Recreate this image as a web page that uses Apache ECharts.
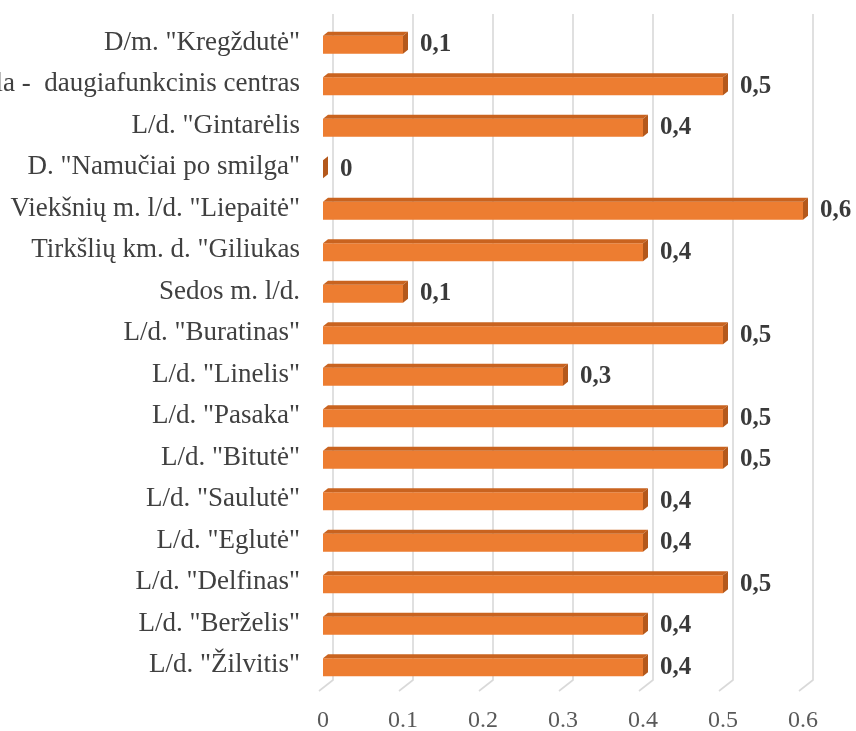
<!DOCTYPE html>
<html lang="lt">
<head>
<meta charset="UTF-8">
<title>Darželiai</title>
<style>
  html, body { margin: 0; padding: 0; background: #fff; }
  #chart { width: 856px; height: 731px; }
</style>
</head>
<body>
<div id="chart"></div>
<script src="https://cdn.jsdelivr.net/npm/echarts@6/dist/echarts.min.js"></script>
<script>
// categories, top to bottom
var categories = [
  'D/m. "Kregždutė"',
  'la -  daugiafunkcinis centras',
  'L/d. "Gintarėlis',
  'D. "Namučiai po smilga"',
  'Viekšnių m. l/d. "Liepaitė"',
  'Tirkšlių km. d. "Giliukas',
  'Sedos m. l/d.',
  'L/d. "Buratinas"',
  'L/d. "Linelis"',
  'L/d. "Pasaka"',
  'L/d. "Bitutė"',
  'L/d. "Saulutė"',
  'L/d. "Eglutė"',
  'L/d. "Delfinas"',
  'L/d. "Berželis"',
  'L/d. "Žilvitis"'
];
var values = [0.1, 0.5, 0.4, 0, 0.6, 0.4, 0.1, 0.5, 0.3, 0.5, 0.5, 0.4, 0.4, 0.5, 0.4, 0.4];
var ticks = [0, 0.1, 0.2, 0.3, 0.4, 0.5, 0.6];

var chart = echarts.init(document.getElementById('chart'));

var FONT = '"Liberation Serif", "DejaVu Serif", serif';

// back wall gridlines with a small slanted floor piece
function renderWall(params, api) {
  var cs = params.coordSys;
  var x = api.coord([api.value(0), 0])[0];
  var bottom = cs.y + cs.height;
  return {
    type: 'polyline',
    shape: { points: [[x + 10, cs.y - 8], [x + 10, bottom - 6], [x - 4, bottom + 5]] },
    style: { stroke: '#d9d9d9', lineWidth: 1.6, fill: null },
    silent: true
  };
}

// 3d-looking bar: front face, top face, right side
function renderBar(params, api) {
  var idx = api.value(0);
  var val = api.value(1);
  var p0 = api.coord([0, idx]);
  var p1 = api.coord([val, idx]);
  var x0 = p0[0], x1 = p1[0], yc = p0[1];
  var dx = 5, dy = 4;
  var children = [];
  if (x1 - x0 > 0.5) {
    children.push({
      type: 'rect',
      shape: { x: x0, y: yc - 7, width: x1 - x0, height: 18 },
      style: { fill: '#ed7d31' }
    });
    children.push({
      type: 'polygon',
      shape: { points: [[x0, yc - 7], [x1, yc - 7], [x1 + dx, yc - 7 - dy], [x0 + dx, yc - 7 - dy]] },
      style: { fill: '#c9631f' }
    });
  }
  children.push({
    type: 'polygon',
    shape: { points: [[x1, yc - 7], [x1 + dx, yc - 7 - dy], [x1 + dx, yc + 11 - dy], [x1, yc + 11]] },
    style: { fill: '#b4581b' }
  });
  children.push({
    type: 'text',
    x: x1 + 17,
    y: yc + 2,
    style: {
      text: String(val).replace('.', ','),
      fill: '#3a3a3a',
      font: 'bold 25px ' + FONT,
      align: 'left',
      verticalAlign: 'middle'
    }
  });
  return { type: 'group', children: children };
}

var barData = values.map(function (v, i) { return [i, v]; });
var wallData = ticks.map(function (t) { return [t]; });

var option = {
  backgroundColor: '#ffffff',
  animation: false,
  grid: { left: 323, right: 53, top: 22, bottom: 45, containLabel: false, outerBoundsMode: 'none' },
  xAxis: {
    type: 'value',
    min: 0,
    max: 0.6,
    interval: 0.1,
    axisLine: { show: false },
    axisTick: { show: false },
    splitLine: { show: false },
    axisLabel: {
      color: '#595959',
      fontFamily: FONT,
      fontSize: 24,
      margin: 23,
      formatter: function (v) { return String(Math.round(v * 10) / 10); }
    }
  },
  yAxis: {
    type: 'category',
    data: categories,
    inverse: true,
    axisLine: { show: false },
    axisTick: { show: false },
    axisLabel: {
      color: '#404040',
      fontFamily: FONT,
      fontSize: 27,
      margin: 23,
      padding: [5, 0, 0, 0]
    }
  },
  series: [
    {
      type: 'custom',
      name: 'wall',
      renderItem: renderWall,
      data: wallData,
      encode: { x: 0 },
      silent: true,
      z: 1
    },
    {
      type: 'custom',
      name: 'bars',
      renderItem: renderBar,
      data: barData,
      encode: { y: 0, x: 1 },
      z: 2
    }
  ]
};

chart.setOption(option);
</script>
</body>
</html>
